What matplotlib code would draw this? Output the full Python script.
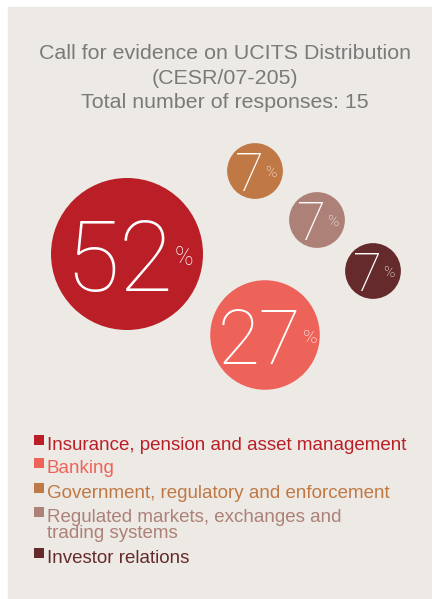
import matplotlib.pyplot as plt
from matplotlib.patches import Circle, Rectangle
import numpy as np

# response shares by respondent group (%)
groups = ['Insurance, pension and asset management',
          'Banking',
          'Government, regulatory and enforcement',
          'Regulated markets, exchanges and\ntrading systems',
          'Investor relations']
shares = [52, 27, 7, 7, 7]
colors = ['#BA1F27', '#EE6359', '#C07844', '#AD8177', '#652B2C']

title = ('Call for evidence on UCITS Distribution\n'
         '(CESR/07-205)\n'
         'Total number of responses: 15')

# bubble layout (pixel coords) and label sizes
centers = [(127, 254), (265, 335), (255, 171), (317, 220), (373, 271)]
num_size = [71, 55, 38, 38, 38]
pct_size = [18, 14, 11, 11, 11]
num_shift = [-8, -5.5, -6, -6, -6]

W, H = 432, 599
fig = plt.figure(figsize=(W / 100, H / 100), dpi=100)
fig.patch.set_facecolor('white')
ax = fig.add_axes([0, 0, 1, 1])
ax.set_xlim(0, W)
ax.set_ylim(H, 0)
ax.set_aspect('equal')
ax.axis('off')

# beige panel
ax.add_patch(Rectangle((8, 7), W - 8, H - 7, color='#EDE9E4', zorder=0))

ax.text(225, 108, title, ha='center', va='baseline', fontsize=15.4,
        color='#7A7A7A', family='Liberation Sans', linespacing=1.36)

# bubbles, area proportional to share
k = 76 / np.sqrt(52)
for i, v in enumerate(shares):
    cx, cy = centers[i]
    r = k * np.sqrt(v)
    ax.add_patch(Circle((cx, cy), r, color=colors[i], zorder=1, lw=0))
    t = ax.text(cx + num_shift[i], cy, str(v), ha='center', va='center_baseline',
                fontsize=num_size[i], color='white', family='Roboto',
                weight='light', zorder=2)
    ax.annotate('%', xy=(1, 0.56), xycoords=t, xytext=(1, 0),
                textcoords='offset points', ha='left', va='center',
                fontsize=pct_size[i], color='white', family='Roboto',
                weight='light', zorder=2)

# legend drawn as coloured squares and text
baselines = [450, 473, 498, 538, 563]
for i, g in enumerate(groups):
    y = baselines[i]
    n = g.count('\n')
    ax.add_patch(Rectangle((33.5, y - 15 - 16.5 * n), 10.5, 10,
                           color=colors[i], lw=0))
    ax.text(47, y, g, ha='left', va='baseline', fontsize=13.5,
            color=colors[i], family='Liberation Sans', linespacing=0.95)

fig.savefig('out.png', dpi=100, facecolor=fig.get_facecolor())
